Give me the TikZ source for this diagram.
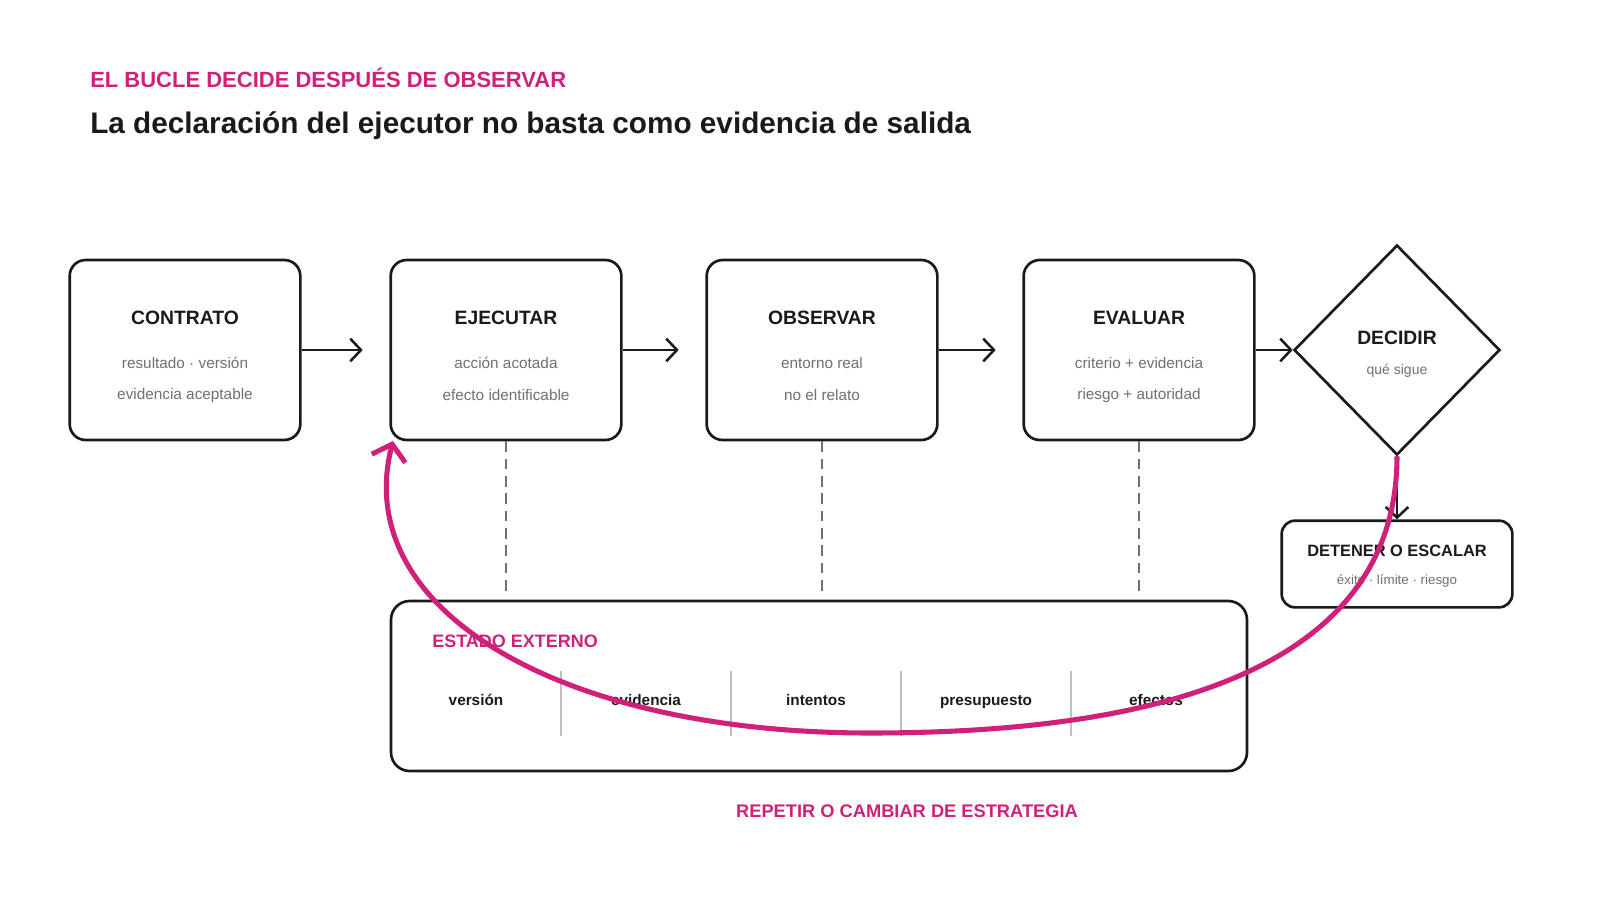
\documentclass[tikz,border=0pt]{standalone}
\usepackage{fontspec}
\setmainfont{Liberation Sans}
\usetikzlibrary{shapes.geometric,arrows.meta}
\definecolor{mag}{HTML}{D0217A}
\definecolor{ink}{HTML}{1A1A1A}
\definecolor{sub}{HTML}{707070}
\begin{document}
\begin{tikzpicture}[x=0.75pt,y=-0.75pt,
  box/.style={draw=ink,line width=2pt,rounded corners=12pt,minimum width=173pt,minimum height=135pt},
  ttl/.style={font=\fontsize{14.5}{16}\selectfont\bfseries,text=ink},
  st/.style={font=\fontsize{11.5}{14}\selectfont,text=sub},
  arr/.style={draw=ink,line width=1.9pt,-{Straight Barb[length=8pt,width=17pt]}},
  dsh/.style={draw=sub,line width=2pt,dash pattern=on 8pt off 5pt},
  item/.style={font=\fontsize{11.5}{14}\selectfont\bfseries,text=ink,anchor=base}]
\useasboundingbox (0,0) rectangle (1600,900);
\node[anchor=base west,inner sep=0pt,text=mag,font=\fontsize{16.5}{18}\selectfont\bfseries] (h1) at (90,87) {EL BUCLE DECIDE DESPUÉS DE OBSERVAR};
\node[anchor=base west,inner sep=0pt,text=ink,font=\fontsize{22.3}{26}\selectfont\bfseries] (h2) at (90,133) {La declaración del ejecutor no basta como evidencia de salida};

\node[box] (c) at (185,350) {};
\node[box] (e) at (506,350) {};
\node[box] (o) at (822,350) {};
\node[box] (v) at (1139,350) {};
\foreach \n/\t/\a/\b in {c/CONTRATO/resultado · versión/evidencia aceptable,e/EJECUTAR/acción acotada/efecto identificable,o/OBSERVAR/entorno real/no el relato,v/EVALUAR/criterio + evidencia/riesgo + autoridad}{
  \node[ttl] (\n t) at ([yshift=24pt]\n.center) {\t};
  \node[st] (\n a) at ([yshift=-10pt]\n.center) {\a};
  \node[st] (\n b) at ([yshift=-34pt]\n.center) {\b};
}
\node[draw=ink,line width=2pt,diamond,minimum width=154.5pt,minimum height=157.5pt,inner sep=0pt] (d) at (1397,350) {};
\node[ttl] (dt) at (1397,338) {DECIDIR};
\node[st,font=\fontsize{10.5}{12}\selectfont] (ds) at (1397,371) {qué sigue};

\node[draw=ink,line width=2pt,rounded corners=10pt,minimum width=173pt,minimum height=65pt] (s) at (1397,564) {};
\node[ttl,font=\fontsize{12.3}{14}\selectfont\bfseries] (st1) at (1397,551) {DETENER O ESCALAR};
\node[st,font=\fontsize{10}{12}\selectfont] (st2) at (1397,581) {éxito · límite · riesgo};

\draw[arr] (c.east) -- ([xshift=-20pt]e.west);
\draw[arr] (e.east) -- ([xshift=-20pt]o.west);
\draw[arr] (o.east) -- ([xshift=-20pt]v.west);
\draw[arr] (v.east) -- (d.west);
\draw[arr] (d.south) -- (s.north);

\node[draw=ink,line width=2pt,rounded corners=14pt,minimum width=642pt,minimum height=127.5pt] (x) at (819,686) {};
\node[anchor=west,inner sep=0pt,text=mag,font=\fontsize{13.5}{15}\selectfont\bfseries] (xl) at (432,641) {ESTADO EXTERNO};
\coordinate (de) at (506,597);
\coordinate (do) at (822,597);
\coordinate (dv) at (1139,597);
\draw[dsh] (e.south) -- (de);
\draw[dsh] (o.south) -- (do);
\draw[dsh] (v.south) -- (dv);
\foreach \i/\xx in {1/561,2/731,3/901,4/1071}{
  \coordinate (sa\i) at (\xx,671); \coordinate (sb\i) at (\xx,736);
  \draw[draw=black!25,line width=1.8pt] (sa\i) -- (sb\i);}
\node[item] (i1) at (476,705) {versión};
\node[item] (i2) at (646,705) {evidencia};
\node[item] (i3) at (816,705) {intentos};
\node[item] (i4) at (986,705) {presupuesto};
\node[item] (i5) at (1156,705) {efectos};

\coordinate (ct) at (393,441);
\draw[mag,line width=3.8pt,-{Straight Barb[length=11pt,width=26pt,line width=3.8pt]}]
  (d.south) .. controls (1397,690) and (1110,733) .. (870,733)
  .. controls (560,733) and (350,610) .. (ct);

\node[text=mag,font=\fontsize{13.7}{15}\selectfont\bfseries] (f) at (907,811) {REPETIR O CAMBIAR DE ESTRATEGIA};
\end{tikzpicture}
\end{document}
